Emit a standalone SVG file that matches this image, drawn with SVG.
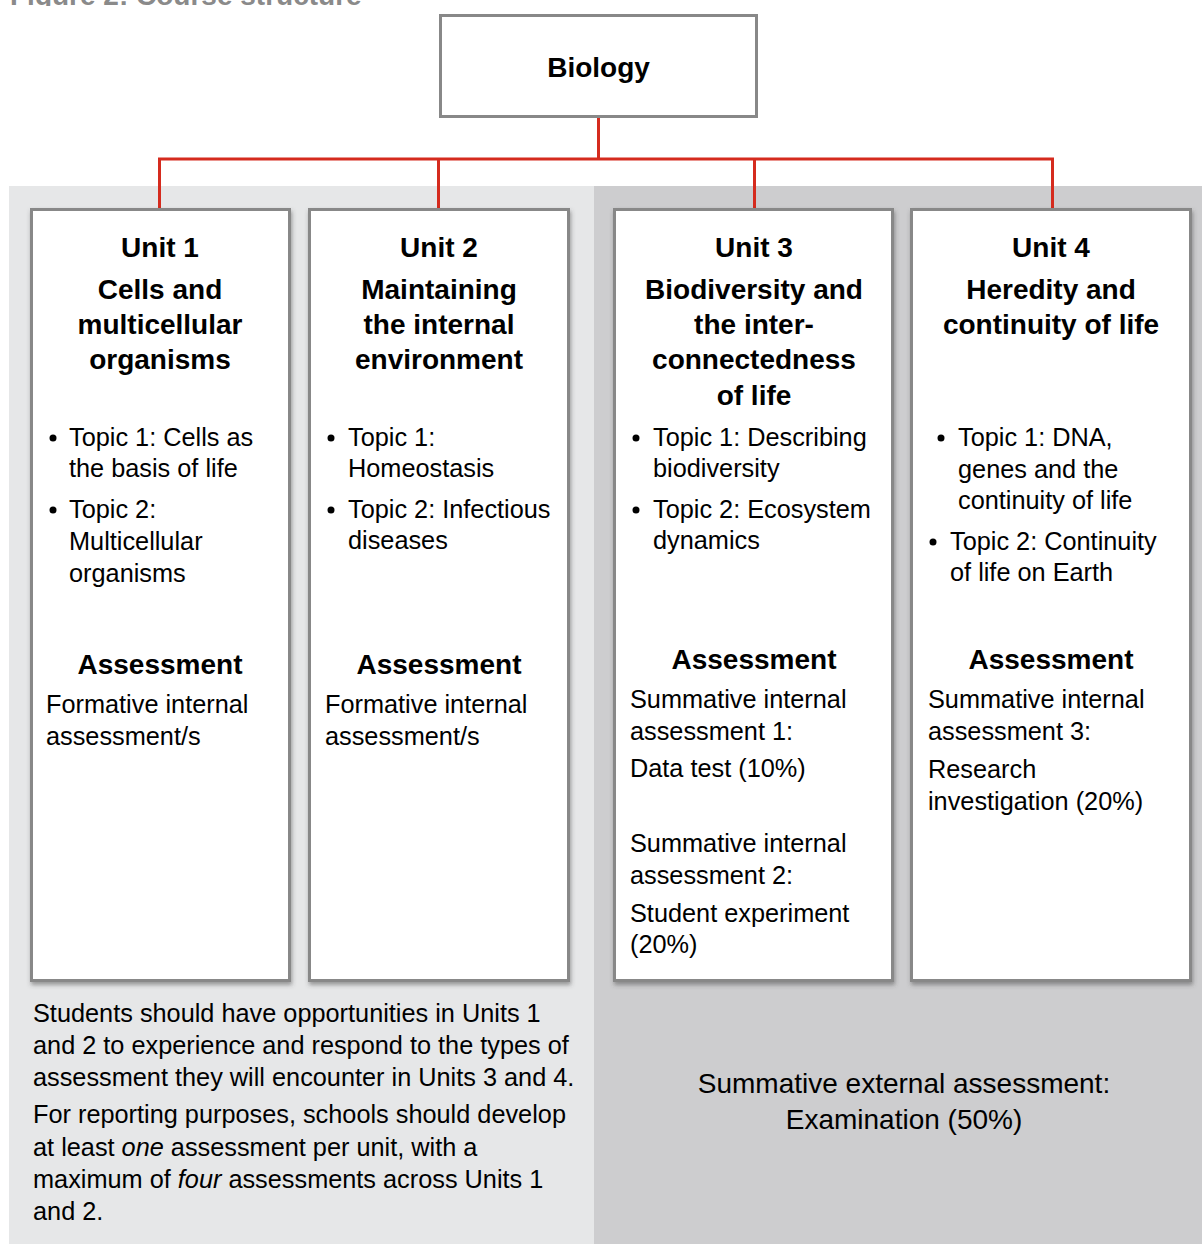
<svg xmlns="http://www.w3.org/2000/svg" width="1202" height="1244" viewBox="0 0 1202 1244">
<defs>
<style>
text{font-family:"Liberation Sans",Arial,sans-serif;fill:#000}
.b{font-weight:bold;font-size:28px}
.c{text-anchor:middle}
.t{font-size:25.3px}
.ex{font-size:28px}
.box{fill:#fff;stroke:#888;stroke-width:3}
.conn{stroke:#d52b1e;stroke-width:3;fill:none}
.cap{font-weight:bold;font-size:28px;fill:#8a8a8a}
</style>
<filter id="sh" x="-10%" y="-5%" width="125%" height="115%">
<feDropShadow dx="1" dy="3" stdDeviation="2" flood-color="#444" flood-opacity="0.5"/>
</filter>
<clipPath id="capclip"><rect x="0" y="0" width="600" height="6"/></clipPath>
</defs>
<rect width="1202" height="1244" fill="#fff"/>
<rect x="9" y="186" width="585" height="1058" fill="#e6e7e8"/>
<rect x="594" y="186" width="608" height="1058" fill="#cdcdcf"/>
<g clip-path="url(#capclip)"><text class="cap" x="10" y="5">Figure 2: Course structure</text></g>
<g id="connectors">
<line class="conn" x1="598.5" y1="118" x2="598.5" y2="160"/>
<line class="conn" x1="158" y1="159" x2="1054" y2="159"/>
<line class="conn" x1="159.5" y1="159" x2="159.5" y2="209"/>
<line class="conn" x1="438.5" y1="159" x2="438.5" y2="209"/>
<line class="conn" x1="754.5" y1="159" x2="754.5" y2="209"/>
<line class="conn" x1="1052.5" y1="159" x2="1052.5" y2="209"/>
</g>
<g id="biology">
<rect class="box" x="440.5" y="15.5" width="316" height="101"/>
<text class="b c" x="598.5" y="77">Biology</text>
</g>
<g id="unit1">
<rect class="box" filter="url(#sh)" x="31.5" y="209.5" width="258" height="771"/>
<text class="b c" x="160" y="257">Unit 1</text>
<text class="b c" x="160" y="299">Cells and</text>
<text class="b c" x="160" y="334">multicellular</text>
<text class="b c" x="160" y="369">organisms</text>
<circle cx="53" cy="438" r="3.5"/>
<text class="t" x="69" y="446">Topic 1: Cells as</text>
<text class="t" x="69" y="477">the basis of life</text>
<circle cx="53" cy="510" r="3.5"/>
<text class="t" x="69" y="518">Topic 2:</text>
<text class="t" x="69" y="550">Multicellular</text>
<text class="t" x="69" y="582">organisms</text>
<text class="b c" x="160" y="674">Assessment</text>
<text class="t" x="46" y="713">Formative internal</text>
<text class="t" x="46" y="745">assessment/s</text>
</g>
<g id="unit2">
<rect class="box" filter="url(#sh)" x="309.5" y="209.5" width="259" height="771"/>
<text class="b c" x="439" y="257">Unit 2</text>
<text class="b c" x="439" y="299">Maintaining</text>
<text class="b c" x="439" y="334">the internal</text>
<text class="b c" x="439" y="369">environment</text>
<circle cx="331" cy="438" r="3.5"/>
<text class="t" x="348" y="446">Topic 1:</text>
<text class="t" x="348" y="477">Homeostasis</text>
<circle cx="331" cy="510" r="3.5"/>
<text class="t" x="348" y="518">Topic 2: Infectious</text>
<text class="t" x="348" y="549">diseases</text>
<text class="b c" x="439" y="674">Assessment</text>
<text class="t" x="325" y="713">Formative internal</text>
<text class="t" x="325" y="745">assessment/s</text>
</g>
<g id="unit3">
<rect class="box" filter="url(#sh)" x="614.5" y="209.5" width="278" height="771"/>
<text class="b c" x="754" y="257">Unit 3</text>
<text class="b c" x="754" y="299">Biodiversity and</text>
<text class="b c" x="754" y="334">the inter-</text>
<text class="b c" x="754" y="369">connectedness</text>
<text class="b c" x="754" y="405">of life</text>
<circle cx="636" cy="438" r="3.5"/>
<text class="t" x="653" y="446">Topic 1: Describing</text>
<text class="t" x="653" y="477">biodiversity</text>
<circle cx="636" cy="510" r="3.5"/>
<text class="t" x="653" y="518">Topic 2: Ecosystem</text>
<text class="t" x="653" y="549">dynamics</text>
<text class="b c" x="754" y="669">Assessment</text>
<text class="t" x="630" y="708">Summative internal</text>
<text class="t" x="630" y="740">assessment 1:</text>
<text class="t" x="630" y="777">Data test (10%)</text>
<text class="t" x="630" y="852">Summative internal</text>
<text class="t" x="630" y="884">assessment 2:</text>
<text class="t" x="630" y="922">Student experiment</text>
<text class="t" x="630" y="953">(20%)</text>
</g>
<g id="unit4">
<rect class="box" filter="url(#sh)" x="911.5" y="209.5" width="279" height="771"/>
<text class="b c" x="1051" y="257">Unit 4</text>
<text class="b c" x="1051" y="299">Heredity and</text>
<text class="b c" x="1051" y="334">continuity of life</text>
<circle cx="941" cy="438" r="3.5"/>
<text class="t" x="958" y="446">Topic 1: DNA,</text>
<text class="t" x="958" y="478">genes and the</text>
<text class="t" x="958" y="509">continuity of life</text>
<circle cx="933" cy="542" r="3.5"/>
<text class="t" x="950" y="550">Topic 2: Continuity</text>
<text class="t" x="950" y="581">of life on Earth</text>
<text class="b c" x="1051" y="669">Assessment</text>
<text class="t" x="928" y="708">Summative internal</text>
<text class="t" x="928" y="740">assessment 3:</text>
<text class="t" x="928" y="778">Research</text>
<text class="t" x="928" y="810">investigation (20%)</text>
</g>
<g id="note-units12">
<text class="t" x="33" y="1022">Students should have opportunities in Units 1</text>
<text class="t" x="33" y="1054">and 2 to experience and respond to the types of</text>
<text class="t" x="33" y="1086">assessment they will encounter in Units 3 and 4.</text>
<text class="t" x="33" y="1123">For reporting purposes, schools should develop</text>
<text class="t" x="33" y="1156">at least <tspan font-style="italic">one</tspan> assessment per unit, with a</text>
<text class="t" x="33" y="1188">maximum of <tspan font-style="italic">four</tspan> assessments across Units 1</text>
<text class="t" x="33" y="1220">and 2.</text>
</g>
<g id="note-units34">
<text class="ex c" x="904" y="1093">Summative external assessment:</text>
<text class="ex c" x="904" y="1129">Examination (50%)</text>
</g>
</svg>
